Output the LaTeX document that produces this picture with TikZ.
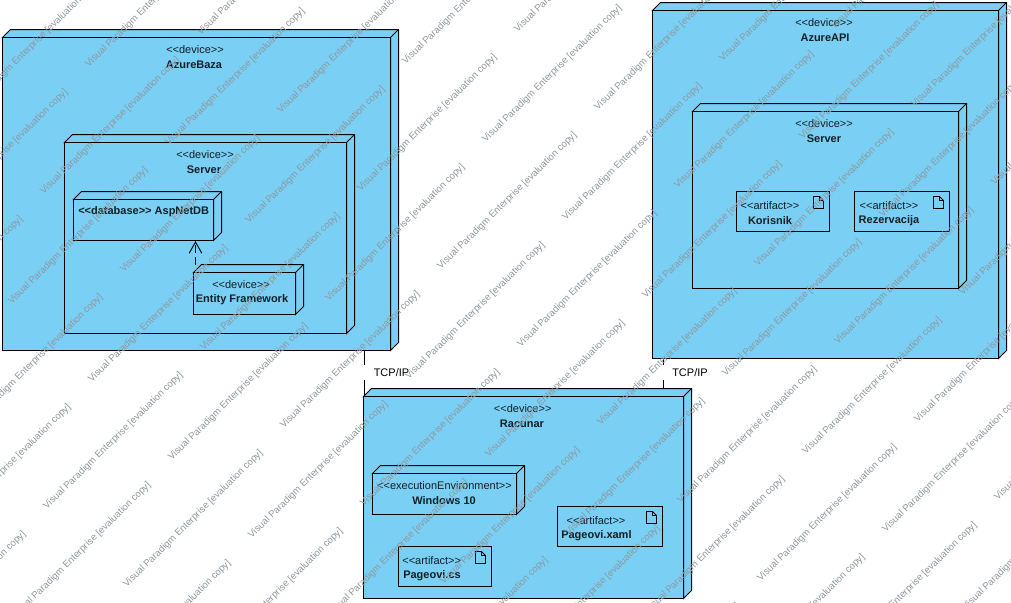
\documentclass[tikz,border=0pt]{standalone}
\usepackage{fontspec}
\setmainfont{Liberation Sans}
\usetikzlibrary{arrows.meta}
\definecolor{nodeblue}{RGB}{122,207,245}
\definecolor{wmgray}{RGB}{142,152,158}
\newcommand{\stereo}[1]{<{}<#1>{}>}
\tikzset{
  x=0.75pt,y=-0.75pt,
  front/.style={draw=black,fill=nodeblue,line width=0.75pt,inner sep=0pt,outer sep=0pt},
  side/.style={draw=black,fill=nodeblue,line width=0.75pt,line join=miter},
  ster/.style={font=\fontsize{8.25}{10}\selectfont,inner sep=0pt,text=black!85!nodeblue},
  nam/.style={font=\fontsize{8.25}{10}\selectfont\bfseries,inner sep=0pt,text=black!85!nodeblue},
  conn/.style={draw=black,line width=0.75pt},
  wmark/.style={font=\fontsize{7.2}{10}\selectfont,text=wmgray,rotate=44.5,anchor=west,inner sep=0pt},
}
% name, left, top, right, bottom
\newcommand{\cube}[5]{%
  \path[side] (#2,#3) -- ++(8,-8) -- (#4+8,#3-8) -- (#4+8,#5-8) -- (#4,#5) -- (#4,#3) -- cycle;
  \draw[side] (#4,#3) -- (#4+8,#3-8);
  \node[front,minimum width={(#4-#2)*0.75pt},minimum height={(#5-#3)*0.75pt}] (#1) at ({(#2+#4)/2},{(#3+#5)/2}) {};
}
% name, left, top, right, bottom
\newcommand{\artif}[5]{%
  \node[front,minimum width={(#4-#2)*0.75pt},minimum height={(#5-#3)*0.75pt}] (#1) at ({(#2+#4)/2},{(#3+#5)/2}) {};
  \draw[line width=0.7pt,line join=miter] (#4-16,#3+5) -- ++(0,12) -- ++(10,0) -- ++(0,-8) -- ++(-4,-4) -- cycle ++(6,0) -- ++(0,4) -- ++(4,0);
}
\begin{document}
\begin{tikzpicture}
\useasboundingbox (0,0) rectangle (1011,603);
\fill[white] (0,0) rectangle (1011,603);
\begin{scope}
\clip (0,0) rectangle (1011,603);
% Connectors
\coordinate (ba) at (364.5,350);
\coordinate (bb) at (364.5,365);
\coordinate (bc) at (364.5,380);
\coordinate (bd) at (364.5,396);
\coordinate (aa) at (663.5,358);
\coordinate (ab) at (663.5,365);
\coordinate (ac) at (663.5,380);
\coordinate (ad) at (663.5,389);
\draw[conn] (ba) -- (bb);
\draw[conn] (bc) -- (bd);
\draw[conn] (aa) -- (ab);
\draw[conn] (ac) -- (ad);
\node[font=\fontsize{8.25}{10}\selectfont,inner sep=0pt,anchor=west] (t1) at (373.5,373) {TCP/IP};
\node[font=\fontsize{8.25}{10}\selectfont,inner sep=0pt,anchor=west] (t2) at (672,373) {TCP/IP};
% AzureBaza
\cube{azbaza}{2.5}{37.5}{390.5}{350.5}
\node[ster] (s1) at (195,50) {\stereo{device}};
\node[nam] (n1) at (194,65) {AzureBaza};
\cube{srv1}{64.5}{142.5}{346.5}{333.5}
\node[ster] (s2) at (205,155) {\stereo{device}};
\node[nam] (n2) at (204,170) {Server};
\cube{aspdb}{73.5}{199.5}{213.5}{240.5}
\node[nam,anchor=west] (n3) at (78,212) {\stereo{database} AspNetDB};
\cube{ef}{193.5}{272.5}{295.5}{314.5}
\node[ster] (s3) at (241,285) {\stereo{device}};
\node[nam] (n4) at (242,300) {Entity Framework};
\coordinate (eftop) at (195.5,264.5);
\coordinate (dbbot) at (195.5,241);
\draw[conn,dash pattern=on 6pt off 3pt,-{Straight Barb[length=8.5pt,width=9.5pt,line width=0.7pt]}] (eftop) -- (dbbot);
% AzureAPI
\cube{azapi}{652.5}{10.5}{998.5}{358.5}
\node[ster] (s4) at (824,23) {\stereo{device}};
\node[nam] (n5) at (825,38) {AzureAPI};
\cube{srv2}{692.5}{111.5}{958.5}{288.5}
\node[ster] (s5) at (824,124) {\stereo{device}};
\node[nam] (n6) at (824,139) {Server};
\artif{kor}{736.5}{191.5}{829.5}{231.5}
\node[ster] (s6) at (770,206) {\stereo{artifact}};
\node[nam] (n7) at (770,221) {Korisnik};
\artif{rez}{854.5}{191.5}{949.5}{231.5}
\node[ster] (s7) at (889,206) {\stereo{artifact}};
\node[nam] (n8) at (889,221) {Rezervacija};
% Racunar
\cube{rac}{363.5}{396.5}{683.5}{598.5}
\node[ster] (s8) at (522.7,409) {\stereo{device}};
\node[nam] (n9) at (522,424) {Racunar};
\cube{win}{372.5}{473.5}{516.5}{514.5}
\node[ster] (s9) at (444.5,486) {\stereo{executionEnvironment}};
\node[nam] (n10) at (444,501) {Windows 10};
\artif{xaml}{557.5}{506.5}{662.5}{546.5}
\node[ster] (s10) at (596,521) {\stereo{artifact}};
\node[nam,anchor=west] (n11) at (561,536) {Pageovi.xaml};
\artif{cs}{398.5}{546.5}{491.5}{586.5}
\node[ster] (s11) at (431.7,561) {\stereo{artifact}};
\node[nam,anchor=west] (n12) at (403,576) {Pageovi.cs};
% Watermark
\foreach \i in {-8,...,14}{
  \foreach \j in {-3,...,4}{
    \pgfmathsetmacro{\px}{87+80*\i+77*\j}
    \pgfmathsetmacro{\py}{66+78*\i-237*\j}
    \pgfmathsetmacro{\qx}{42+80*\i+77*\j}
    \pgfmathsetmacro{\qy}{193+78*\i-237*\j}
    \node[wmark] (wp\i\j) at (\px,\py) {Visual Paradigm Enterprise [evaluation copy]};
    \node[wmark] (wq\i\j) at (\qx,\qy) {Visual Paradigm Enterprise [evaluation copy]};
  }
}
\end{scope}
\end{tikzpicture}
\end{document}
